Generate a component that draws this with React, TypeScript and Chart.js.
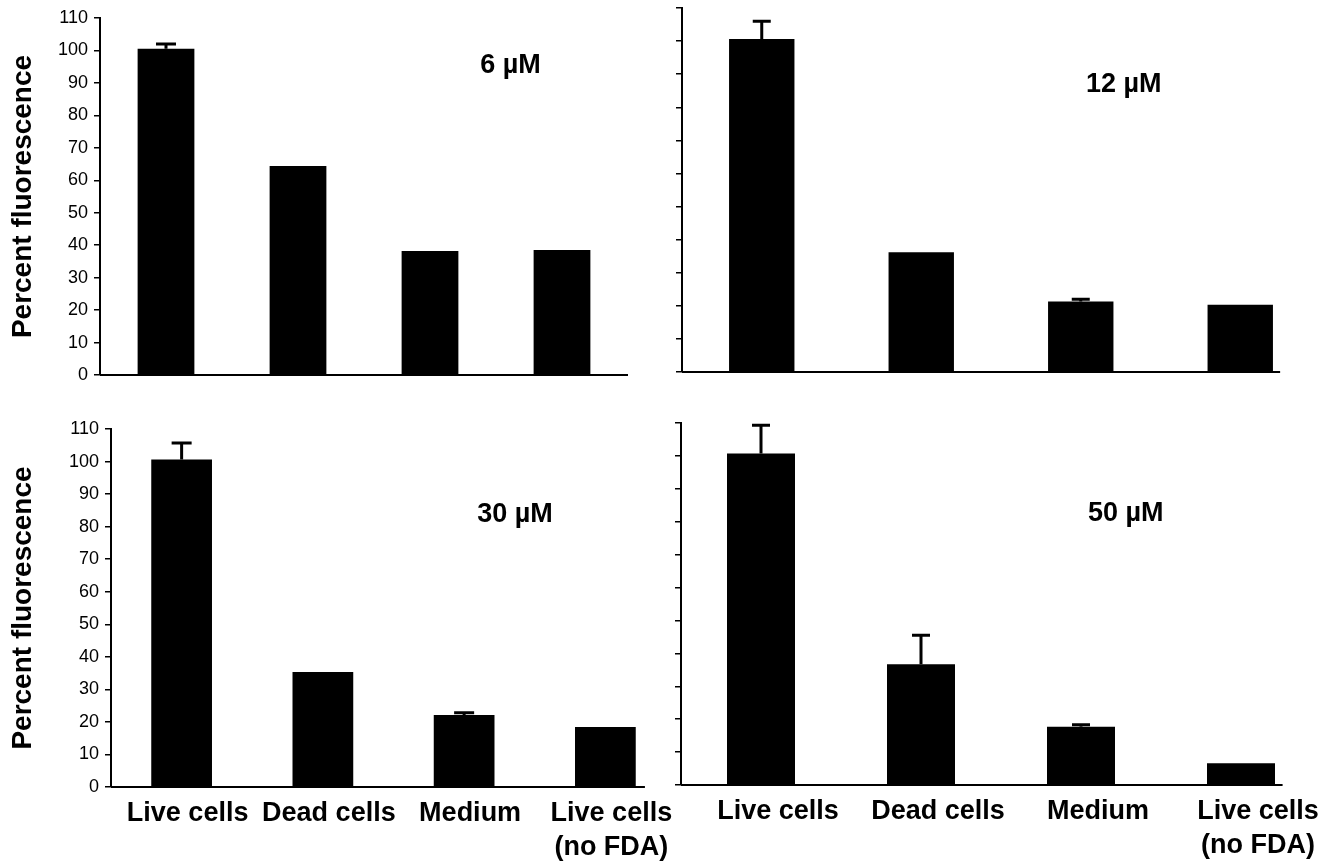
import React, { useEffect, useRef } from "react";
import { Chart, registerables } from "chart.js";

Chart.register(...registerables);

// ---- data ----
const categories: string[][] = [["Live cells"], ["Dead cells"], ["Medium"], ["Live cells", "(no FDA)"]];
const concentrations = ["6 µM", "12 µM", "30 µM", "50 µM"];
const yAxisTitle = "Percent fluorescence";
const yMin = 0;
const yMax = 110;
const yStep = 10;

const values6 = [100.5, 64.4, 38.2, 38.5];
const errors6 = [1.5, 0, 0, 0];
const values12 = [100.6, 36.2, 21.3, 20.3];
const errors12 = [5.4, 0, 0.7, 0];
const values30 = [100.6, 35.3, 22.1, 18.4];
const errors30 = [5.1, 0, 0.7, 0];
const values50 = [100.7, 36.7, 17.7, 6.6];
const errors50 = [8.6, 8.8, 0.6, 0];

// label anchor for concentration text, in data terms (category index, value)
const labelIndex = [2.61, 2.27, 2.36, 2.28];
const labelValue = [95.2, 86.8, 83.6, 82.6];

const FONT = "'Liberation Sans', Arial, Helvetica, sans-serif";

type Panel = {
  values: number[];
  errors: number[];
  title: string;
  lx: number;
  ly: number;
  left: number;
  top: number;
  width: number;
  height: number;
  pad: { left: number; top: number; right: number; bottom: number };
  yWidth: number;
  xHeight: number;
  showY: boolean;
  showX: boolean;
  barPct: number;
  tail: number;
  labelOffset: number;
  cap: number;
};

const panels: Panel[] = [
  {
    values: values6, errors: errors6, title: concentrations[0], lx: labelIndex[0], ly: labelValue[0],
    left: 0, top: 0, width: 668, height: 410,
    pad: { left: 0, top: 18, right: 40, bottom: 0 }, yWidth: 100, xHeight: 35,
    showY: true, showX: false, barPct: 0.43, tail: 0.5, labelOffset: 0, cap: 10,
  },
  {
    values: values12, errors: errors12, title: concentrations[1], lx: labelIndex[1], ly: labelValue[1],
    left: 668, top: 0, width: 669, height: 410,
    pad: { left: 0, top: 8, right: 17, bottom: 0 }, yWidth: 14, xHeight: 38,
    showY: false, showX: false, barPct: 0.41, tail: 0.25, labelOffset: 0, cap: 9,
  },
  {
    values: values30, errors: errors30, title: concentrations[2], lx: labelIndex[2], ly: labelValue[2],
    left: 0, top: 410, width: 700, height: 458,
    pad: { left: 0, top: 19, right: 24, bottom: 0 }, yWidth: 111, xHeight: 81,
    showY: true, showX: true, barPct: 0.43, tail: 0.28, labelOffset: 6, cap: 10,
  },
  {
    values: values50, errors: errors50, title: concentrations[3], lx: labelIndex[3], ly: labelValue[3],
    left: 668, top: 410, width: 669, height: 458,
    pad: { left: 0, top: 13, right: 16, bottom: 0 }, yWidth: 13, xHeight: 83,
    showY: false, showX: true, barPct: 0.425, tail: 0.26, labelOffset: 17, cap: 9,
  },
];

const baselinePlugin = {
  id: "baseline",
  beforeDatasetsDraw(chart: any, _args: any, opts: any) {
    const x = chart.scales.x;
    const y = chart.scales.y;
    const n = chart.data.labels.length;
    const cw = x.getPixelForValue(1) - x.getPixelForValue(0);
    const end = x.getPixelForValue(n - 1) + opts.tail * cw;
    const yy = y.getPixelForValue(0);
    const ctx = chart.ctx;
    ctx.save();
    ctx.strokeStyle = "#000";
    ctx.lineWidth = 2;
    ctx.beginPath();
    ctx.moveTo(chart.chartArea.left, yy);
    ctx.lineTo(end, yy);
    ctx.stroke();
    ctx.restore();
  },
};

const errorBarPlugin = {
  id: "errorBars",
  afterDatasetsDraw(chart: any, _args: any, opts: any) {
    const meta = chart.getDatasetMeta(0);
    const y = chart.scales.y;
    const data = chart.data.datasets[0].data as number[];
    const ctx = chart.ctx;
    ctx.save();
    ctx.strokeStyle = "#000";
    ctx.lineWidth = 3;
    meta.data.forEach((bar: any, i: number) => {
      const e = opts.errors[i];
      if (!e) return;
      const yTop = y.getPixelForValue(data[i] + e);
      const yBase = y.getPixelForValue(data[i]);
      ctx.beginPath();
      ctx.moveTo(bar.x, yBase);
      ctx.lineTo(bar.x, yTop);
      ctx.moveTo(bar.x - opts.cap, yTop);
      ctx.lineTo(bar.x + opts.cap, yTop);
      ctx.stroke();
    });
    ctx.restore();
  },
};

const concLabelPlugin = {
  id: "concLabel",
  afterDraw(chart: any, _args: any, opts: any) {
    const x = chart.scales.x;
    const y = chart.scales.y;
    const px = x.getPixelForValue(0) + opts.index * (x.getPixelForValue(1) - x.getPixelForValue(0));
    const py = y.getPixelForValue(opts.value);
    const ctx = chart.ctx;
    ctx.save();
    ctx.fillStyle = "#000";
    ctx.font = `bold 27px ${FONT}`;
    ctx.textAlign = "center";
    ctx.textBaseline = "middle";
    ctx.fillText(opts.text, px, py);
    ctx.restore();
  },
};

function PanelChart({ p }: { p: Panel }) {
  const ref = useRef<HTMLCanvasElement | null>(null);
  useEffect(() => {
    if (!ref.current) return;
    const chart = new Chart(ref.current, {
      type: "bar",
      data: {
        labels: categories as any,
        datasets: [
          {
            data: p.values,
            backgroundColor: "#000",
            borderWidth: 0,
            barPercentage: p.barPct,
            categoryPercentage: 1,
          },
        ],
      },
      plugins: [baselinePlugin, errorBarPlugin, concLabelPlugin],
      options: {
        responsive: false,
        animation: false,
        devicePixelRatio: 1,
        layout: { padding: p.pad },
        events: [],
        plugins: {
          legend: { display: false },
          tooltip: { enabled: false },
          baseline: { tail: p.tail },
          errorBars: { errors: p.errors, cap: p.cap },
          concLabel: { text: p.title, index: p.lx, value: p.ly },
        } as any,
        scales: {
          x: {
            type: "category",
            offset: true,
            grid: { display: false, drawTicks: false },
            border: { display: false },
            ticks: {
              display: p.showX,
              color: "#000",
              padding: 10,
              labelOffset: p.labelOffset,
              maxRotation: 0,
              autoSkip: false,
              font: { family: FONT, size: 27, weight: "bold", lineHeight: 1.25 },
            },
            afterFit: (s: any) => {
              s.height = p.xHeight;
              s.paddingLeft = 0;
              s.paddingRight = 0;
            },
          },
          y: {
            min: yMin,
            max: yMax,
            grid: {
              drawOnChartArea: false,
              drawTicks: true,
              tickLength: 6,
              color: "#000",
              lineWidth: 1.5,
            },
            border: { display: true, color: "#000", width: 2 },
            ticks: {
              display: p.showY,
              stepSize: yStep,
              color: "#000",
              padding: 6,
              font: { family: FONT, size: 18 },
            },
            title: {
              display: p.showY,
              text: yAxisTitle,
              color: "#000",
              padding: { top: 6, bottom: 0 },
              font: { family: FONT, size: 28, weight: "bold" },
            },
            afterFit: (s: any) => {
              s.width = p.yWidth;
              s.paddingTop = 0;
              s.paddingBottom = 0;
            },
          },
        },
      } as any,
    });
    return () => chart.destroy();
  }, [p]);
  return (
    <canvas
      ref={ref}
      width={p.width}
      height={p.height}
      style={{ position: "absolute", left: p.left, top: p.top, width: p.width, height: p.height }}
    />
  );
}

export default function App() {
  return (
    <div style={{ position: "absolute", left: 0, top: 0, width: 1337, height: 868, background: "#fff", overflow: "hidden" }}>
      {panels.map((p, i) => (
        <PanelChart key={i} p={p} />
      ))}
    </div>
  );
}
